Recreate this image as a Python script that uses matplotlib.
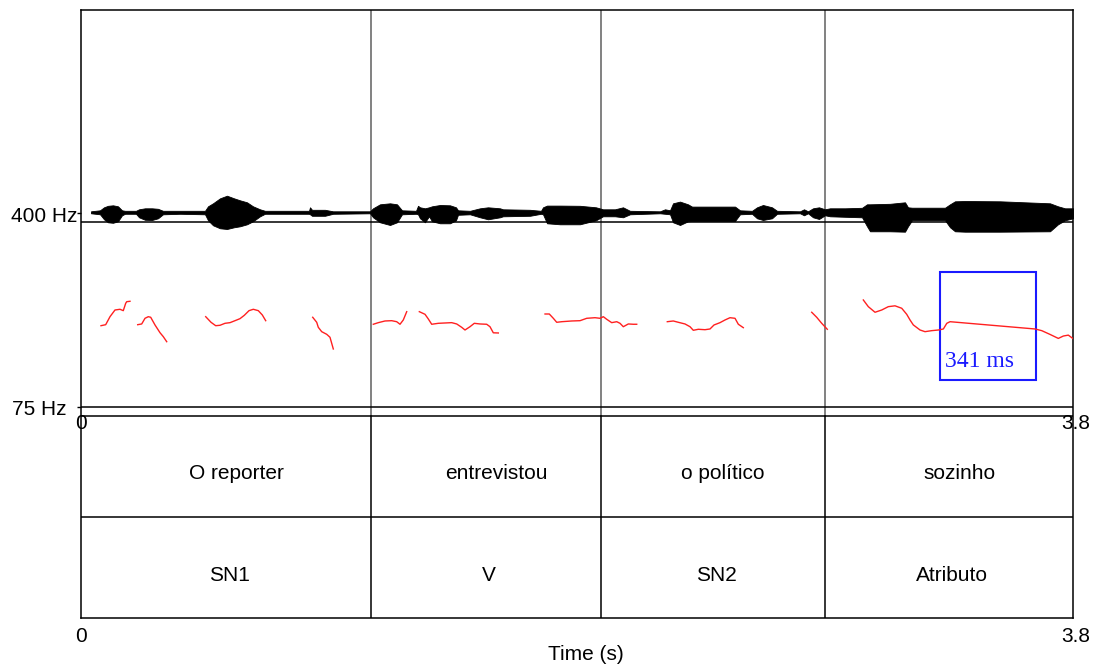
import matplotlib
matplotlib.use("Agg")
import matplotlib.pyplot as plt
from matplotlib.patches import Rectangle
import matplotlib.transforms as mtransforms

# ---------------- data ----------------
t_start, t_end = 0.0, 3.8
boundaries = [0.0, 1.111, 1.992, 2.850, 3.8]
words = ["O reporter", "entrevistou", "o político", "sozinho"]
roles = ["SN1", "V", "SN2", "Atributo"]

# waveform envelope (time s, upper amplitude, lower amplitude; arbitrary units)
wave_t = [0.0383, 0.0728, 0.0881, 0.1034, 0.1226, 0.1417, 0.1571, 0.1686, 0.2107, 0.2222,
          0.2452, 0.2720, 0.2950, 0.3141, 0.3792, 0.4750, 0.4865, 0.5057, 0.5325, 0.5593,
          0.5861, 0.6091, 0.6359, 0.6589, 0.6857, 0.7048, 0.8734, 0.8772, 0.8849, 0.9347,
          0.9653, 1.1071, 1.1186, 1.1454, 1.1837, 1.2105, 1.2297, 1.2833, 1.2910, 1.2986,
          1.3178, 1.3331, 1.3446, 1.3752, 1.4135, 1.4365, 1.4442, 1.4901, 1.5284, 1.5591,
          1.6051, 1.6166, 1.7200, 1.7621, 1.7698, 1.7851, 1.8349, 1.9115, 1.9728, 1.9996,
          2.0456, 2.0762, 2.1030, 2.2180, 2.2371, 2.2563, 2.2678, 2.2946, 2.3252, 2.3406,
          2.5053, 2.5245, 2.5704, 2.5896, 2.6125, 2.6470, 2.6662, 2.7543, 2.7696, 2.7849,
          2.8041, 2.8271, 2.8500, 2.8692, 2.9267, 2.9918, 3.0109, 3.0224, 3.0990, 3.1565,
          3.1680, 3.1833, 3.3097, 3.3289, 3.3480, 3.3863, 3.5204, 3.7119, 3.7426, 3.7694,
          3.8000]
wave_up = [1, 2, 5, 6.5, 7, 6, 2, 1.5, 1.5, 3,
           4, 4, 3.5, 1.5, 1.5, 1.5, 6, 9, 14, 16.6,
           14, 12, 10, 6, 3, 1.5, 1.5, 5, 2.5, 2.5,
           1, 1, 4, 8, 9, 8, 2, 1.5, 6.5, 5,
           4, 5, 6, 7.3, 7, 5, 2, 1.5, 4, 5,
           4, 3, 2.5, 1.5, 5, 6.7, 6.7, 6.5, 5, 3,
           3, 5, 1.5, 1, 3, 2, 9, 10.7, 8, 5.7,
           5.7, 2, 1.5, 5, 7.3, 5, 1.5, 1, 3, 1,
           4, 5, 3, 4, 4, 4.5, 8, 8, 8.5, 10,
           5, 4.6, 4.6, 8, 11, 11.3, 11, 9, 6, 4,
           4]
wave_down = [1, 2, 7, 10, 10.5, 9, 3, 1.5, 1.5, 5,
             7.5, 7.7, 6, 2, 1.5, 2, 8, 13, 16, 16.7,
             15, 14, 12, 9, 4, 1.5, 1.5, 2, 3.5, 3.5,
             1.5, 1, 5, 10, 12.7, 10, 2, 1.5, 2, 6,
             10, 4, 9, 11, 11, 8, 2.5, 2, 5, 7,
             5, 4, 3.5, 1.5, 2, 11, 12, 12, 8, 4,
             4, 5, 2, 1, 1.5, 2, 10, 12.7, 9, 8.7,
             8.7, 2, 1.5, 6, 7.7, 6, 1.5, 1, 3, 1,
             5, 6.7, 3, 4, 4.5, 5, 14, 19, 19, 19.4,
             14, 8, 8, 15, 19, 19.4, 19.4, 19, 12, 8,
             6]

# pitch contour segments (time s, Hz)
pitch_t = [
    [0.0766, 0.0946, 0.1111, 0.1302, 0.1494, 0.1620, 0.1712, 0.1751, 0.1877],
    [0.2172, 0.2325, 0.2452, 0.2578, 0.2670, 0.2835, 0.3026, 0.3153, 0.3283],
    [0.4777, 0.4980, 0.5160, 0.5325, 0.5516, 0.5708, 0.5899, 0.6091, 0.6256, 0.6436,
     0.6600, 0.6792, 0.6945, 0.7075],
    [0.8876, 0.9029, 0.9090, 0.9220, 0.9412, 0.9538, 0.9665],
    [1.1197, 1.1389, 1.1645, 1.1902, 1.2093, 1.2220, 1.2346, 1.2477],
    [1.2960, 1.3178, 1.3304, 1.3434, 1.3687, 1.4200, 1.4392, 1.4583, 1.4710, 1.4901,
     1.5066, 1.5284, 1.5541, 1.5667, 1.5794, 1.5986],
    [1.7775, 1.7939, 1.8093, 1.8223, 1.8415, 1.8798, 1.9116, 1.9373, 1.9690, 1.9882,
     2.0008, 2.0139, 2.0330, 2.0522, 2.0648, 2.0774, 2.0966, 2.1157, 2.1288],
    [2.2459, 2.2689, 2.2881, 2.3137, 2.3329, 2.3455, 2.3647, 2.3903, 2.4095, 2.4248,
     2.4478, 2.4670, 2.4861, 2.5053, 2.5180, 2.5371],
    [2.7991, 2.8182, 2.8374, 2.8588],
    [2.9968, 3.0159, 3.0416, 3.0672, 3.0925, 3.1182, 3.1439, 3.1630, 3.1757, 3.1883,
     3.2140, 3.2331, 3.2588, 3.2843, 3.3034, 3.3165, 3.3291, 3.6546, 3.6803, 3.7120,
     3.7438, 3.7630, 3.7821, 3.7990],
]
pitch_hz = [
    [211.2, 212.9, 226.3, 237.5, 238.7, 236.4, 248.7, 251.4, 252.1],
    [212.9, 214.1, 223.6, 226.3, 225.3, 212.4, 199.5, 192.8, 184.4],
    [226.3, 216.9, 211.2, 211.9, 215.2, 216.3, 219.6, 223.0, 228.6, 236.4,
     238.7, 236.4, 229.2, 219.6],
    [225.3, 216.9, 208.5, 201.2, 196.8, 191.8, 172.2],
    [213.6, 216.3, 219.1, 219.6, 217.9, 213.6, 220.8, 234.7],
    [234.7, 230.3, 222.5, 213.6, 215.2, 216.3, 214.1, 208.5, 204.0, 209.5,
     215.2, 214.1, 213.6, 209.5, 199.3, 199.0],
    [230.8, 230.8, 223.6, 216.9, 217.9, 219.1, 219.6, 223.6, 224.6, 223.6,
     226.3, 221.9, 216.3, 217.9, 215.2, 209.5, 214.1, 213.6, 213.6],
    [217.9, 219.1, 216.9, 214.1, 209.5, 203.5, 205.2, 204.5, 205.7, 212.4,
     216.3, 220.8, 224.6, 223.6, 213.6, 207.9],
    [233.7, 225.3, 215.2, 205.2],
    [254.3, 243.1, 233.7, 237.5, 243.1, 244.5, 240.4, 230.3, 220.8, 212.5,
     204.0, 201.2, 202.9, 204.0, 205.7, 215.2, 217.9, 205.7, 202.9, 196.6,
     189.9, 193.9, 195.4, 189.9],
]
pitch_min, pitch_max = 75, 400

# highlighted region
box_t0, box_t1 = 3.290, 3.659
box_hz0, box_hz1 = 120.3, 301.7
box_label = "341 ms"

# ---------------- layout helpers ----------------
W, H = 1100, 666
FONT = "Liberation Sans"
FS = 15


def rect(x0, y0, x1, y1):
    """pixel box (top-left origin) -> figure fraction rect"""
    return [x0 / W, 1 - y1 / H, (x1 - x0) / W, (y1 - y0) / H]


fig = plt.figure(figsize=(W / 100, H / 100), dpi=100)
fig.patch.set_facecolor("white")

L, R, T, B = 81, 1073, 10, 618

# frame axes (layout units = pixels from top)
ax = fig.add_axes(rect(L, T, R, B))
ax.set_xlim(t_start, t_end)
ax.set_ylim(B, T)
ax.set_xticks([])
ax.set_yticks([])
for s in ax.spines.values():
    s.set_linewidth(1.1)
    s.set_color("black")
ax.patch.set_alpha(0)

# horizontal separators
for yy in (222, 407, 416, 517):
    ax.axhline(yy, color="black", lw=1.1, zorder=3)

# interval boundaries
for b in boundaries[1:-1]:
    ax.plot([b, b], [T, 416], color="#777777", lw=1.3, zorder=2)
    ax.plot([b, b], [416, B], color="black", lw=1.1, zorder=2)

# tier labels
off1 = mtransforms.offset_copy(ax.transData, fig=fig, x=10, y=0, units="dots")
off2 = mtransforms.offset_copy(ax.transData, fig=fig, x=3, y=0, units="dots")
for i in range(len(words)):
    mid = (boundaries[i] + boundaries[i + 1]) / 2
    ax.text(mid, 479, words[i], ha="center", va="baseline", fontsize=FS,
            family=FONT, transform=off1)
    ax.text(mid, 580.7, roles[i], ha="center", va="baseline", fontsize=FS,
            family=FONT, transform=off2)

# time labels
for yy in (423.5, 636):
    ax.text(t_start, yy, "0", ha="center", va="center", fontsize=FS, family=FONT)
    ax.text(t_end, yy, "3.8", ha="center", va="center", fontsize=FS, family=FONT,
            transform=mtransforms.offset_copy(ax.transData, fig=fig, x=3, y=0, units="dots"))
fig.text(585.5 / W, 1 - 654 / H, "Time (s)", ha="center", va="center",
         fontsize=FS, family=FONT)

# waveform axes
axw = fig.add_axes(rect(L, 192.3, R, 232.3))
axw.set_xlim(t_start, t_end)
axw.set_ylim(-20, 20)
axw.axis("off")
axw.fill_between(wave_t, [-d for d in wave_down], wave_up, color="black",
                 lw=0.6, edgecolor="black")

# pitch axes
axp = fig.add_axes(rect(L, 213, R, 407))
axp.set_xlim(t_start, t_end)
axp.set_ylim(pitch_min, pitch_max)
axp.patch.set_alpha(0)
for s in axp.spines.values():
    s.set_visible(False)
axp.set_xticks([])
axp.set_yticks([pitch_min, pitch_max])
axp.set_yticklabels([])
axp.tick_params(axis="y", direction="out", length=3, width=1, color="black")
for ts, hs in zip(pitch_t, pitch_hz):
    axp.plot(ts, hs, color="#ff2020", lw=1.0, solid_joinstyle="round")
axp.add_patch(Rectangle((box_t0, box_hz0), box_t1 - box_t0, box_hz1 - box_hz0,
                        fill=False, edgecolor="#1a1aff", lw=1.5, clip_on=False))
axp.text(box_t0 + 0.02, 150.4, box_label, ha="left", va="center", fontsize=17,
         family="Liberation Serif", color="#1a1aff")

fig.text(11 / W, 1 - 216.5 / H, f"{pitch_max} Hz", ha="left", va="center",
         fontsize=FS, family=FONT)
fig.text(12 / W, 1 - 409.7 / H, f"{pitch_min} Hz", ha="left", va="center",
         fontsize=FS, family=FONT)

fig.savefig("out.png", dpi=100, facecolor="white")
